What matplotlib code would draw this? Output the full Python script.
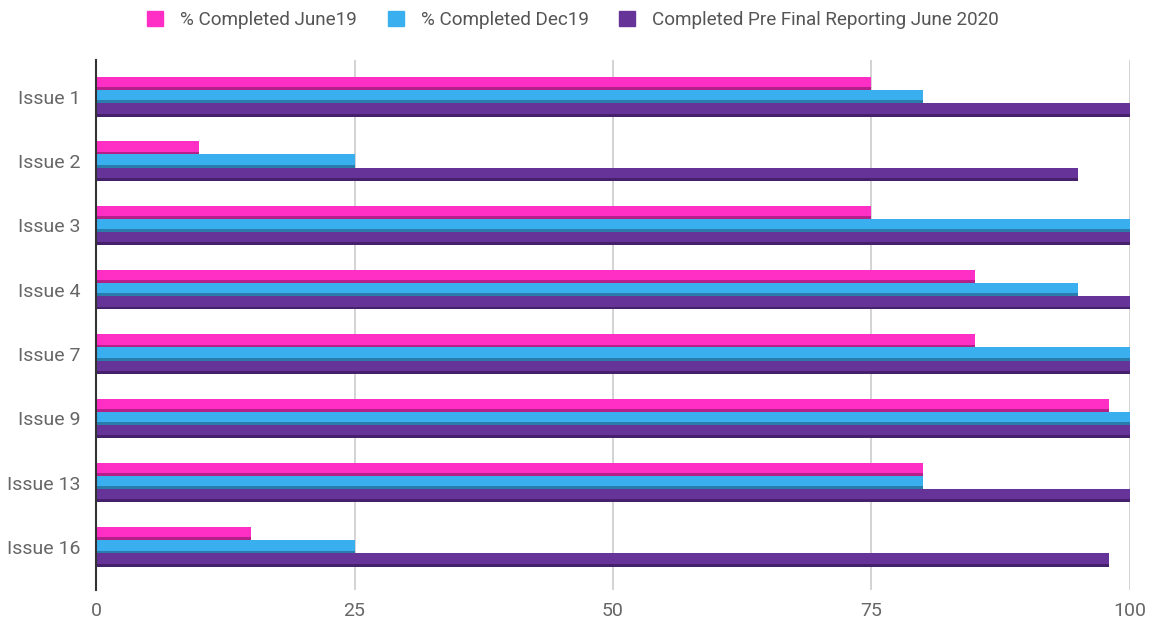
import matplotlib
matplotlib.use("Agg")
import matplotlib.pyplot as plt
import numpy as np
from matplotlib.patches import Patch

categories = ["Issue 1", "Issue 2", "Issue 3", "Issue 4", "Issue 7", "Issue 9", "Issue 13", "Issue 16"]
june19 = [75, 10, 75, 85, 85, 98, 80, 15]
dec19 = [80, 25, 100, 95, 100, 100, 80, 25]
june2020 = [100, 95, 100, 100, 100, 100, 100, 98]
series_names = ["% Completed June19", "% Completed Dec19", "Completed Pre Final Reporting June 2020"]
xticks = [0, 25, 50, 75, 100]

colors = ["#ff2ec4", "#3aaff0", "#663399"]
shadows = ["#b51f8a", "#2a7cab", "#44216a"]

plt.rcParams['font.family'] = ['Roboto', 'DejaVu Sans']
fig = plt.figure(figsize=(11.53, 6.23), dpi=100)
ax = fig.add_axes([0.0833, 0.053, 0.8967, 0.851])

y = np.arange(len(categories))
h = 0.205
sh = 0.045
offsets = [-h, 0, h]
for vals, off, c, s, name in zip([june19, dec19, june2020], offsets, colors, shadows, series_names):
    ctr = y + off
    ax.barh(ctr - h / 2, vals, height=h, align='edge', color=s, zorder=3)
    ax.barh(ctr - h / 2, vals, height=h - sh, align='edge', color=c, zorder=4, label=name)

ax.set_xlim(0, 100)
ax.set_ylim(7.67, -0.575)
ax.set_yticks(y)
ax.set_yticklabels(categories)
ax.set_xticks(xticks)
ax.set_xticklabels([str(t) for t in xticks])
ax.tick_params(axis='both', length=0, labelsize=14, colors='#666666')
ax.tick_params(axis='y', pad=11)
ax.tick_params(axis='x', pad=9)
ax.grid(axis='x', color='#cccccc', linewidth=1.2, zorder=0)
for sp in ['top', 'right', 'bottom']:
    ax.spines[sp].set_visible(False)
ax.spines['left'].set_color('#333333')
ax.spines['left'].set_linewidth(1.5)
ax.spines['left'].set_zorder(5)

leg_handles = [Patch(facecolor=c, edgecolor=c) for c in colors]
fig.legend(leg_handles, series_names, loc='upper center', bbox_to_anchor=(0.497, 1.01), ncol=3,
           frameon=False, fontsize=13.6, handlelength=0.85, handleheight=0.85, columnspacing=1.6,
           handletextpad=0.9, labelcolor='#555555')

fig.savefig("out.png", dpi=100)
